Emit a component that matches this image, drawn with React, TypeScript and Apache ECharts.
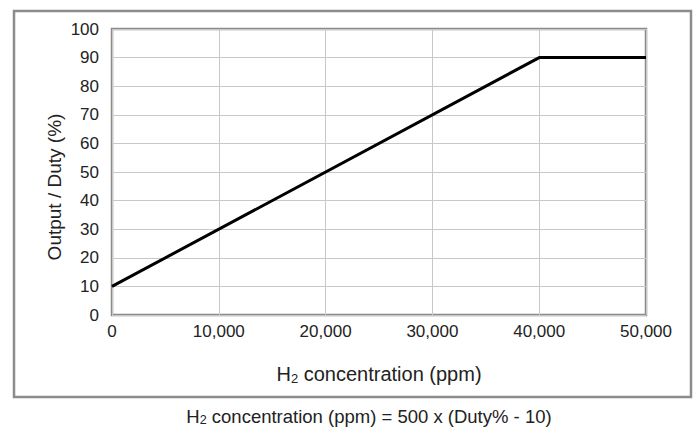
import React, { useEffect, useRef } from "react";
import * as echarts from "echarts";

const concentration = [0, 40000, 50000];
const duty = [10, 90, 90];
const xTicks = [0, 10000, 20000, 30000, 40000, 50000];
const yTicks = [0, 10, 20, 30, 40, 50, 60, 70, 80, 90, 100];
const yAxisTitle = "Output / Duty (%)";
const xAxisTitleMain = " concentration (ppm)";
const captionTail = " concentration (ppm) = 500 x (Duty% - 10)";

const FONT = "'Liberation Sans', Arial, sans-serif";

export default function App() {
  const ref = useRef<HTMLDivElement>(null);
  useEffect(() => {
    if (!ref.current) return;
    const chart = echarts.init(ref.current, null, { renderer: "svg" });
    const fmt = (v: number) => v.toLocaleString("en-US");
    chart.setOption({
      animation: false,
      backgroundColor: "#ffffff",
      grid: {
        left: 112,
        top: 29,
        right: 48,
        bottom: 112,
        show: true,
        borderColor: "#8a8a8a",
        borderWidth: 2.5,
        backgroundColor: "transparent",
      },
      xAxis: {
        type: "value",
        min: xTicks[0],
        max: xTicks[xTicks.length - 1],
        interval: 10000,
        axisLine: { show: false },
        axisTick: { show: false },
        axisLabel: {
          color: "#222",
          fontSize: 17,
          fontFamily: FONT,
          margin: 8,
          formatter: (v: number) => fmt(v),
        },
        splitLine: { show: true, lineStyle: { color: "#c8c8c8", width: 1 } },
      },
      yAxis: {
        type: "value",
        min: yTicks[0],
        max: yTicks[yTicks.length - 1],
        interval: 10,
        axisLine: { show: false },
        axisTick: { show: false },
        axisLabel: {
          color: "#222",
          fontSize: 17,
          fontFamily: FONT,
          margin: 13,
        },
        splitLine: { show: true, lineStyle: { color: "#c8c8c8", width: 1 } },
      },
      series: [
        {
          type: "line",
          data: concentration.map((c, i) => [c, duty[i]]),
          showSymbol: false,
          symbol: "none",
          lineStyle: { color: "#000", width: 3 },
          z: 5,
        },
      ],
      graphic: [
        {
          type: "rect",
          shape: { x: 14, y: 11, width: 677, height: 386 },
          style: { fill: "none", stroke: "#8c8c8c", lineWidth: 2.5 },
          silent: true,
          z: -1,
        },
        {
          type: "text",
          x: 54,
          y: 187,
          rotation: Math.PI / 2,
          style: {
            text: yAxisTitle,
            fontSize: 19,
            fontFamily: FONT,
            fill: "#222",
            align: "center",
            verticalAlign: "middle",
          },
        },
        {
          type: "text",
          x: 379,
          y: 374,
          style: {
            text: "{m|H}{s|2}{m|" + xAxisTitleMain + "}",
            align: "center",
            verticalAlign: "middle",
            rich: {
              m: { fontSize: 20, fontFamily: FONT, fill: "#222", lineHeight: 24 },
              s: { fontSize: 13, fontFamily: FONT, fill: "#222", lineHeight: 13, padding: [9, 0, 0, 0] },
            },
          },
        },
        {
          type: "text",
          x: 369,
          y: 416,
          style: {
            text: "{m|H}{s|2}{m|" + captionTail + "}",
            align: "center",
            verticalAlign: "middle",
            rich: {
              m: { fontSize: 18.5, fontFamily: FONT, fill: "#222", lineHeight: 20 },
              s: { fontSize: 12.5, fontFamily: FONT, fill: "#222", lineHeight: 12, padding: [8, 0, 0, 0] },
            },
          },
        },
      ],
    });
    return () => chart.dispose();
  }, []);
  return (
    <div
      ref={ref}
      style={{ position: "fixed", left: 0, top: 0, width: 694, height: 427 }}
    />
  );
}
